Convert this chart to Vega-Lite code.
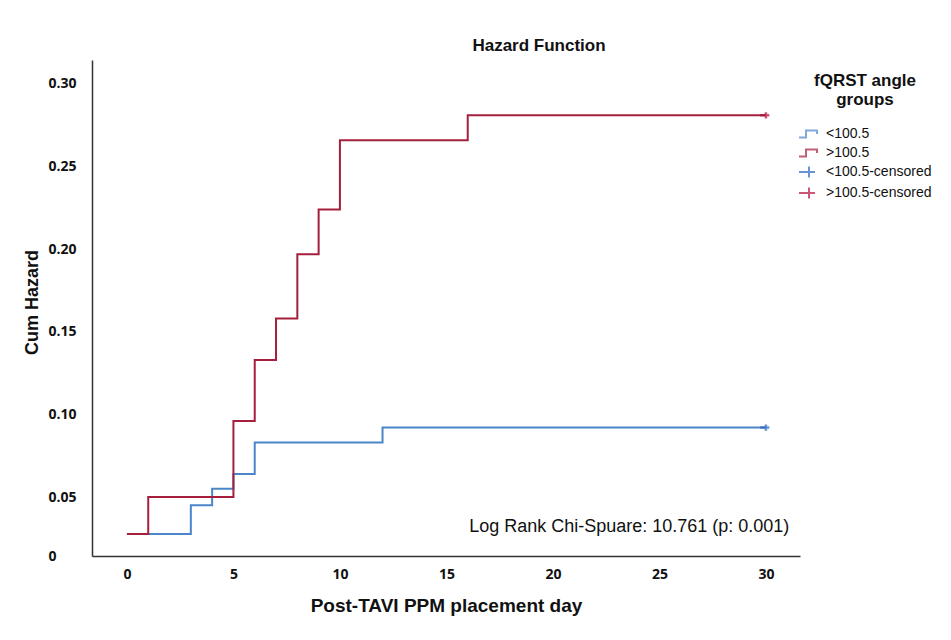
{
  "$schema": "https://vega.github.io/schema/vega-lite/v6.json",
  "autosize": "none",
  "width": 708,
  "height": 496,
  "padding": {"left": 92, "top": 60, "right": 151, "bottom": 84},
  "background": "white",
  "title": {"text": "Hazard Function", "anchor": "middle", "dx": 93, "offset": 5, "font": "Liberation Sans", "fontSize": 17, "fontWeight": "bold", "color": "#111"},
  "config": {
    "view": {"stroke": null},
    "axis": {"grid": false, "ticks": false, "domainColor": "#333", "domainWidth": 1.5, "labelColor": "#111", "titleColor": "#111"},
    "legend": {"orient": "none", "legendX": 706, "legendY": 13, "titleFont": "Liberation Sans", "titleFontSize": 17, "titleFontWeight": "bold", "titleColor": "#111", "titleLineHeight": 19, "titleAlign": "center", "titleAnchor": "middle", "titlePadding": 14, "titleLimit": 300, "labelFont": "Liberation Sans", "labelFontSize": 14, "labelColor": "#111", "labelLimit": 300, "symbolSize": 400, "symbolStrokeWidth": 2, "rowPadding": -2, "labelOffset": 6}
  },
  "datasets": {
    "curves": [
      {"day": 0, "hazard": 0.0276, "group": "<100.5"},
      {"day": 3, "hazard": 0.045, "group": "<100.5"},
      {"day": 4, "hazard": 0.055, "group": "<100.5"},
      {"day": 5, "hazard": 0.064, "group": "<100.5"},
      {"day": 6, "hazard": 0.083, "group": "<100.5"},
      {"day": 12, "hazard": 0.092, "group": "<100.5"},
      {"day": 30, "hazard": 0.092, "group": "<100.5"},
      {"day": 0, "hazard": 0.0276, "group": ">100.5"},
      {"day": 1, "hazard": 0.05, "group": ">100.5"},
      {"day": 5, "hazard": 0.096, "group": ">100.5"},
      {"day": 6, "hazard": 0.133, "group": ">100.5"},
      {"day": 7, "hazard": 0.158, "group": ">100.5"},
      {"day": 8, "hazard": 0.197, "group": ">100.5"},
      {"day": 9, "hazard": 0.224, "group": ">100.5"},
      {"day": 10, "hazard": 0.266, "group": ">100.5"},
      {"day": 16, "hazard": 0.281, "group": ">100.5"},
      {"day": 30, "hazard": 0.281, "group": ">100.5"}
    ],
    "censored": [
      {"day": 30, "hazard": 0.092, "group": "<100.5-censored"},
      {"day": 30, "hazard": 0.281, "group": ">100.5-censored"}
    ],
    "note": [
      {"day": 31.1, "hazard": 0.032, "label": "Log Rank Chi-Spuare: 10.761 (p: 0.001)"}
    ]
  },
  "layer": [
    {
      "data": {"name": "curves"},
      "mark": {"type": "line", "interpolate": "step-after", "strokeWidth": 2},
      "encoding": {
        "x": {"field": "day", "type": "quantitative",
          "scale": {"domain": [-1.64, 31.6], "nice": false, "zero": false},
          "axis": {"values": [0, 5, 10, 15, 20, 25, 30], "title": "Post-TAVI PPM placement day", "labelFont": "Open Sans", "labelFontWeight": "bold", "labelFontSize": 14, "labelPadding": 11, "titleFont": "Liberation Sans", "titleFontSize": 19, "titleFontWeight": "bold", "titlePadding": 15}},
        "y": {"field": "hazard", "type": "quantitative",
          "scale": {"domain": [0.0143, 0.3145], "nice": false, "zero": false},
          "axis": {"values": [0.0143, 0.05, 0.1, 0.15, 0.2, 0.25, 0.3], "labelExpr": "datum.value < 0.02 ? '0' : format(datum.value, '.2f')", "title": "Cum Hazard", "labelFont": "Open Sans", "labelFontWeight": "bold", "labelFontSize": 14, "labelAlign": "left", "labelPadding": 44, "titleFont": "Liberation Sans", "titleFontSize": 18, "titleFontWeight": "bold", "titleX": -51, "titleY": 242, "titleAnchor": null}},
        "color": {"field": "group", "type": "nominal",
          "scale": {"domain": ["<100.5", ">100.5", "<100.5-censored", ">100.5-censored"], "range": ["#4a86c8", "#a51e3c", "#2a66c0", "#b5123a"]},
          "legend": {"title": ["fQRST angle", "groups"]}},
        "detail": {"field": "group"}
      }
    },
    {
      "data": {"name": "censored"},
      "mark": {"type": "point", "filled": false, "strokeWidth": 2.5, "size": 130},
      "encoding": {
        "x": {"field": "day", "type": "quantitative"},
        "y": {"field": "hazard", "type": "quantitative"},
        "color": {"field": "group", "type": "nominal", "legend": {"title": ["fQRST angle", "groups"]}},
        "shape": {"field": "group", "type": "nominal",
          "scale": {"domain": ["<100.5", ">100.5", "<100.5-censored", ">100.5-censored"], "range": ["M-1,0.35 L-0.3,0.35 L-0.3,-0.35 L0.8,-0.35 L0.8,0", "M-1,0.35 L-0.3,0.35 L-0.3,-0.35 L0.8,-0.35 L0.8,0", "M-1,0 L0.6,0 M0,-0.55 L0,0.55", "M-1,0 L0.6,0 M0,-0.55 L0,0.55"]},
          "legend": {"title": ["fQRST angle", "groups"]}}
      }
    },
    {
      "data": {"name": "note"},
      "mark": {"type": "text", "align": "right", "baseline": "middle", "font": "Liberation Sans", "fontSize": 18, "color": "#111"},
      "encoding": {
        "x": {"field": "day", "type": "quantitative"},
        "y": {"field": "hazard", "type": "quantitative"},
        "text": {"field": "label"}
      }
    }
  ],
  "resolve": {"legend": {"color": "shared", "shape": "shared"}}
}
